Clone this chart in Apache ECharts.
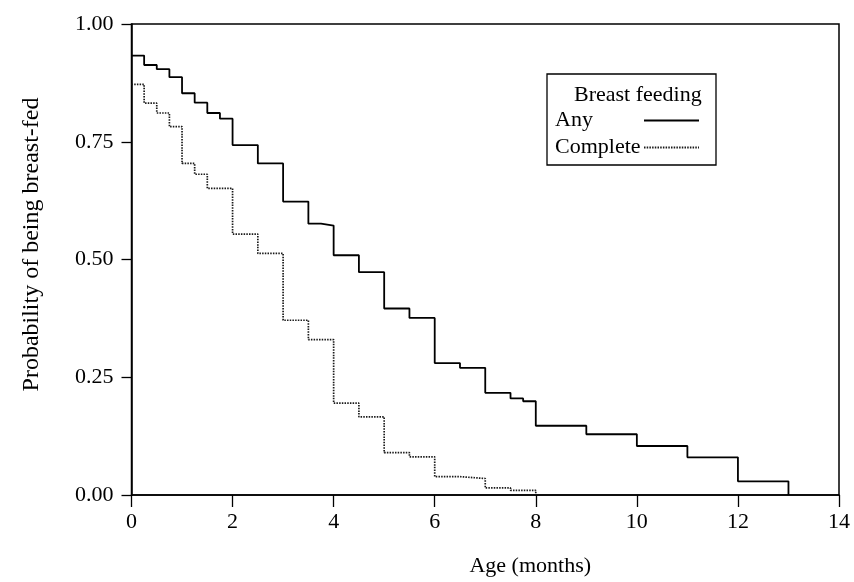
<!DOCTYPE html>
<html>
<head>
<meta charset="utf-8">
<script src="https://cdn.jsdelivr.net/npm/echarts@6/dist/echarts.min.js"></script>
<style>html,body{margin:0;padding:0;background:#fff}#c{width:854px;height:582px}</style>
</head>
<body>
<div id="c"></div>
<script>
// Kaplan-Meier style step data: [age in months, probability from that age on]
const anyTimes = [0, 0.25, 0.5, 0.75, 1, 1.25, 1.5, 1.75, 2, 2.5, 3, 3.5, 3.75, 4, 4.5, 5, 5.5, 6, 6.5, 7, 7.5, 7.75, 8, 9, 10, 11, 12, 13];
const anyValues = [0.933, 0.913, 0.904, 0.887, 0.853, 0.833, 0.811, 0.799, 0.743, 0.704, 0.623, 0.576, 0.572, 0.509, 0.473, 0.396, 0.376, 0.280, 0.270, 0.217, 0.205, 0.199, 0.147, 0.129, 0.104, 0.080, 0.029, 0];
const completeTimes = [0, 0.25, 0.5, 0.75, 1, 1.25, 1.5, 2, 2.5, 3, 3.5, 4, 4.5, 5, 5.5, 6, 6.5, 7, 7.5, 8];
const completeValues = [0.872, 0.832, 0.811, 0.782, 0.704, 0.681, 0.651, 0.554, 0.513, 0.371, 0.330, 0.195, 0.166, 0.090, 0.081, 0.039, 0.035, 0.015, 0.010, 0];
const xTicks = [0, 2, 4, 6, 8, 10, 12, 14];
const yTickLabels = ['0.00', '0.25', '0.50', '0.75', '1.00'];

const FONT = 'Liberation Serif';
const chart = echarts.init(document.getElementById('c'));
const pair = (t, v) => t.map((x, i) => [x, v[i]]);

chart.setOption({
  animation: false,
  backgroundColor: '#fff',
  textStyle: { fontFamily: FONT, color: '#000' },
  title: {
    text: 'Breast feeding',
    left: 569, top: 79,
    textStyle: { fontFamily: FONT, fontSize: 22, fontWeight: 'normal', color: '#000' }
  },
  legend: {
    orient: 'vertical',
    left: 547, top: 74,
    padding: [35, 16, 6, 8],
    align: 'right',
    itemWidth: 55, itemHeight: 14, itemGap: 4,
    borderColor: '#000', borderWidth: 1.3,
    itemStyle: { color: 'transparent', borderColor: 'transparent', borderWidth: 0 },
    formatter: name => '{n|' + name + '}',
    textStyle: {
      fontFamily: FONT, fontSize: 22, color: '#000',
      rich: { n: { width: 84, height: 23, lineHeight: 23, align: 'left', fontFamily: FONT, fontSize: 22, color: '#000' } }
    },
    data: ['Any', 'Complete']
  },
  grid: {
    left: 131.5, right: 15, top: 24, bottom: 76,
    show: true, borderColor: '#000', borderWidth: 1.5, containLabel: false
  },
  xAxis: {
    type: 'value', min: 0, max: 14, interval: 2,
    name: 'Age (months)', nameLocation: 'middle', nameGap: 60,
    nameTextStyle: { fontFamily: FONT, fontSize: 22, color: '#000', padding: [0, 0, 0, 90] },
    axisLine: { show: true, lineStyle: { color: '#000', width: 1.5 } },
    axisTick: { show: true, length: 12, lineStyle: { color: '#000', width: 1.3 } },
    axisLabel: { margin: 16, fontFamily: FONT, fontSize: 22, color: '#000',
      formatter: v => xTicks.includes(v) ? String(v) : '' },
    splitLine: { show: false }
  },
  yAxis: {
    type: 'value', min: 0, max: 1, interval: 0.25,
    name: 'Probability of being breast-fed', nameLocation: 'middle', nameGap: 88,
    nameRotate: 90,
    nameTextStyle: { fontFamily: FONT, fontSize: 24, color: '#000', padding: [0, 0, 0, 30] },
    axisLine: { show: true, lineStyle: { color: '#000', width: 1.5 } },
    axisTick: { show: true, length: 10, lineStyle: { color: '#000', width: 1.3 } },
    axisLabel: { margin: 18, fontFamily: FONT, fontSize: 22, color: '#000',
      formatter: v => yTickLabels[Math.round(v * 4)] },
    splitLine: { show: false }
  },
  series: [
    {
      name: 'Any', type: 'line', step: 'end', symbol: 'none',
      data: pair(anyTimes, anyValues),
      lineStyle: { color: '#000', width: 1.8 },
      itemStyle: { color: '#000' }
    },
    {
      name: 'Complete', type: 'line', step: 'end', symbol: 'none',
      data: pair(completeTimes, completeValues),
      lineStyle: { color: '#1a1a1a', width: 1.7, type: [1.5, 1.2] },
      itemStyle: { color: '#1a1a1a' }
    }
  ]
});
</script>
</body>
</html>
